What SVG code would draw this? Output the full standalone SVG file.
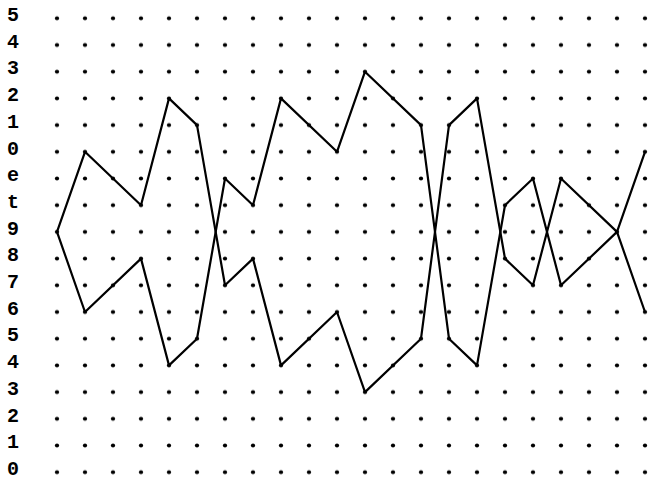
<svg xmlns="http://www.w3.org/2000/svg" width="649" height="482" viewBox="0 0 649 482">
<style>
.lbl{font-family:"Liberation Mono","DejaVu Sans Mono",monospace;font-weight:bold;font-size:20px;fill:#000;text-anchor:middle}
.ln{fill:none;stroke:#000;stroke-width:2.2;stroke-linejoin:round;stroke-linecap:round}
</style>
<defs>
<pattern id="dots" patternUnits="userSpaceOnUse" x="43" y="4.95" width="28" height="26.7">
<circle cx="14" cy="13.35" r="2.1" fill="#000"/>
</pattern>
</defs>
<rect width="649" height="482" fill="#fff"/>
<g id="grid">
<rect x="43" y="4.95" width="616" height="480.6" fill="url(#dots)"/>
</g>
<g id="labels">
<text class="lbl" x="13" y="21">5</text>
<text class="lbl" x="13" y="47.7">4</text>
<text class="lbl" x="13" y="74.4">3</text>
<text class="lbl" x="13" y="101.1">2</text>
<text class="lbl" x="13" y="127.8">1</text>
<text class="lbl" x="13" y="154.5">0</text>
<text class="lbl" x="13" y="181.2">e</text>
<text class="lbl" x="13" y="207.9">t</text>
<text class="lbl" x="13" y="234.6">9</text>
<text class="lbl" x="13" y="261.3">8</text>
<text class="lbl" x="13" y="288">7</text>
<text class="lbl" x="13" y="314.7">6</text>
<text class="lbl" x="13" y="341.4">5</text>
<text class="lbl" x="13" y="368.1">4</text>
<text class="lbl" x="13" y="394.8">3</text>
<text class="lbl" x="13" y="421.5">2</text>
<text class="lbl" x="13" y="448.2">1</text>
<text class="lbl" x="13" y="474.9">0</text>
</g>
<g id="connectors">
<polyline class="ln" points="57,231.9 85,151.8 141,205.2 169,98.4 197,125.1 225,285.3 253,258.6 281,365.4 337,312 365,392.1 421,338.7 449,125.1 477,98.4 505,258.6 533,285.3 561,178.5 617,231.9 645,312"/>
<polyline class="ln" points="57,231.9 85,312 141,258.6 169,365.4 197,338.7 225,178.5 253,205.2 281,98.4 337,151.8 365,71.7 421,125.1 449,338.7 477,365.4 505,205.2 533,178.5 561,285.3 617,231.9 645,151.8"/>
</g>
</svg>
